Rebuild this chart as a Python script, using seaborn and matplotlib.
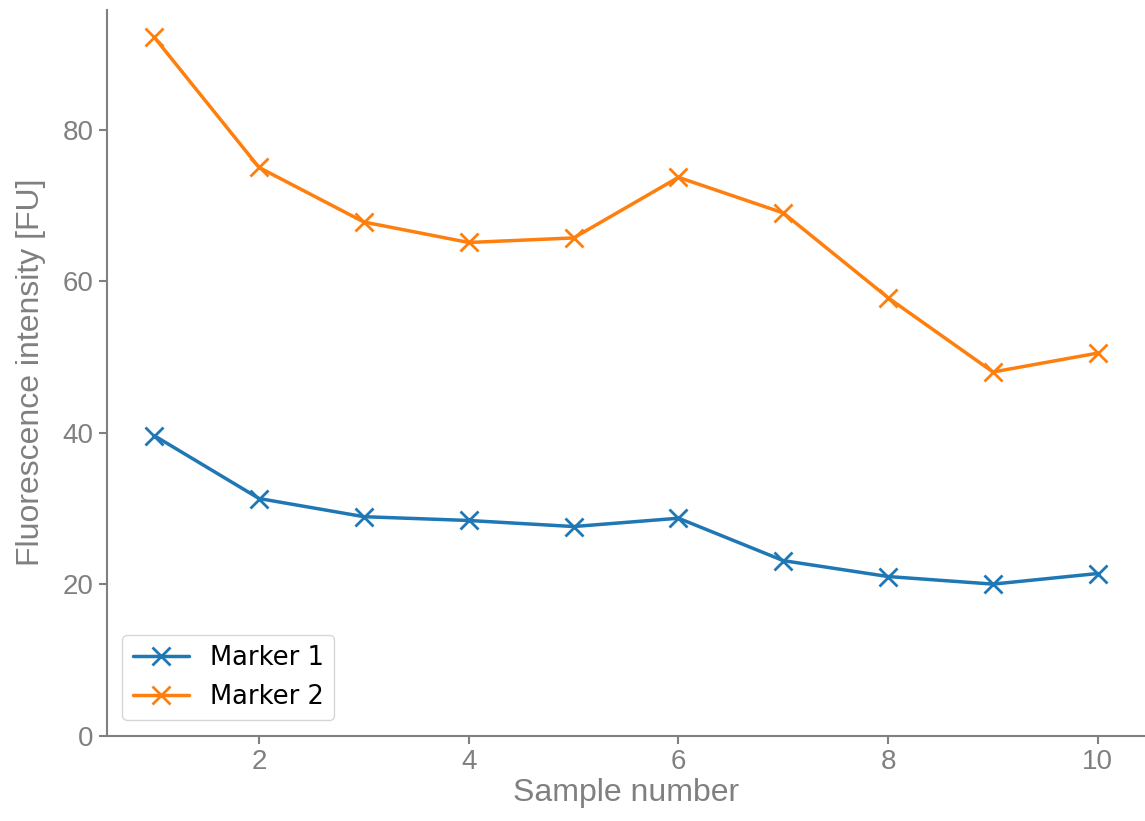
import pandas as pd
import matplotlib
matplotlib.use("Agg")
import matplotlib.pyplot as plt
import seaborn as sns

# values
samples = [1, 2, 3, 4, 5, 6, 7, 8, 9, 10]
marker1 = [39.6, 31.3, 28.9, 28.4, 27.6, 28.7, 23.1, 21.0, 20.0, 21.4]
marker2 = [92.2, 75.0, 67.8, 65.1, 65.7, 73.7, 69.0, 57.8, 48.0, 50.5]
series_names = ["Marker 1", "Marker 2"]
colors = ["#1f77b4", "#ff7f0e"]

sns.set_style("ticks")
gray = "#808080"
label_font = "Liberation Sans"

fig = plt.figure(figsize=(11.45, 8.21), dpi=100)
ax = fig.add_axes([0.0935, 0.104, 0.9065, 0.884])
for name, vals, c in zip(series_names, [marker1, marker2], colors):
    sns.lineplot(x=samples, y=vals, color=c, marker="x", markersize=13,
                 markeredgewidth=2, markeredgecolor=c, linewidth=2.5,
                 label=name, ax=ax)
ax.set_ylim(bottom=0)

sns.despine(ax=ax)
for s in ["left", "bottom"]:
    ax.spines[s].set_color(gray)
    ax.spines[s].set_linewidth(1.5)
ax.tick_params(colors=gray, labelsize=20, width=1.5, length=6)
for t in ax.get_xticklabels() + ax.get_yticklabels():
    t.set_fontfamily(label_font)
ax.set_xlabel("Sample number", fontsize=23, color=gray, family=label_font,
              labelpad=2)
ax.set_ylabel("Fluorescence intensity [FU]", fontsize=23, color=gray,
              family=label_font, labelpad=12)

leg = ax.legend(loc="lower left", fontsize=18.5, handlelength=2.2,
                borderaxespad=0.6)
leg.get_frame().set_edgecolor("#cccccc")
for t in leg.get_texts():
    t.set_color("black")

fig.savefig("out.png", dpi=100)
